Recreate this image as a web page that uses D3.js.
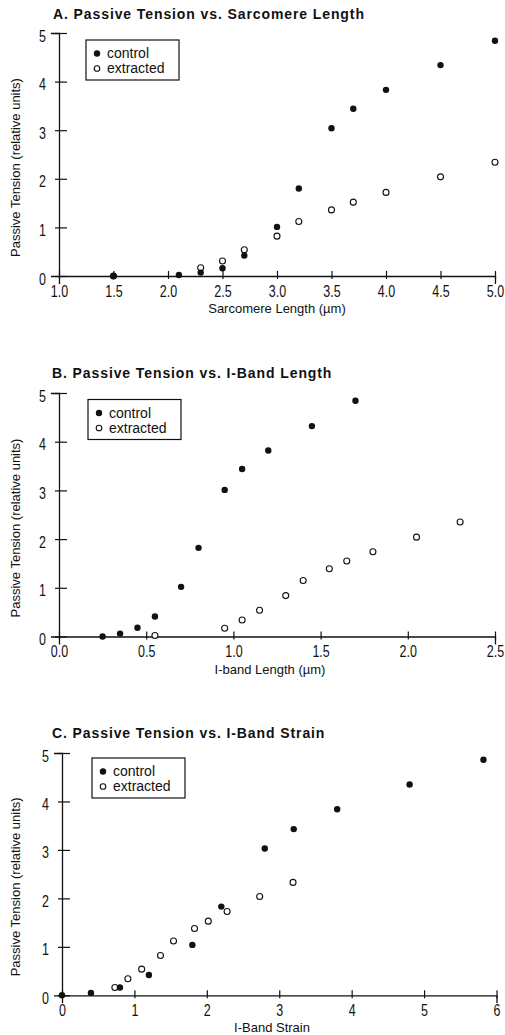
<!DOCTYPE html>
<html>
<head>
<meta charset="utf-8">
<script src="https://cdn.jsdelivr.net/npm/d3@7"></script>
<style>
  html, body { margin: 0; padding: 0; background: #fff; }
  svg { display: block; }
  text { font-family: "Liberation Sans", Arial, Helvetica, sans-serif; fill: #111; }
</style>
</head>
<body>
<svg id="chart" width="505" height="1035"></svg>
<script>
// ---------- DATA ----------
// Panel A: Passive Tension vs. Sarcomere Length
const sarcomereControlX = [1.5, 2.1, 2.3, 2.5, 2.7, 3.0, 3.2, 3.5, 3.7, 4.0, 4.5, 5.0];
const sarcomereControlY = [0.0, 0.02, 0.07, 0.16, 0.42, 1.01, 1.80, 3.04, 3.44, 3.83, 4.34, 4.84];
const sarcomereExtractedX = [1.5, 2.3, 2.5, 2.7, 3.0, 3.2, 3.5, 3.7, 4.0, 4.5, 5.0];
const sarcomereExtractedY = [0.0, 0.17, 0.31, 0.54, 0.82, 1.12, 1.36, 1.52, 1.72, 2.04, 2.34];
const sarcomereTicks = [1.0, 1.5, 2.0, 2.5, 3.0, 3.5, 4.0, 4.5, 5.0];

// Panel B: Passive Tension vs. I-Band Length
const ibandControlX = [0.25, 0.35, 0.45, 0.55, 0.70, 0.80, 0.95, 1.05, 1.20, 1.45, 1.70];
const ibandControlY = [0.0, 0.06, 0.18, 0.41, 1.02, 1.82, 3.01, 3.44, 3.82, 4.32, 4.84];
const ibandExtractedX = [0.55, 0.95, 1.05, 1.15, 1.30, 1.40, 1.55, 1.65, 1.80, 2.05, 2.30];
const ibandExtractedY = [0.02, 0.17, 0.34, 0.54, 0.84, 1.15, 1.39, 1.55, 1.74, 2.04, 2.35];
const ibandTicks = [0.0, 0.5, 1.0, 1.5, 2.0, 2.5];

// Panel C: Passive Tension vs. I-Band Strain
const strainControlX = [0.0, 0.4, 0.8, 1.2, 1.8, 2.2, 2.8, 3.2, 3.8, 4.8, 5.82];
const strainControlY = [0.0, 0.05, 0.16, 0.42, 1.04, 1.83, 3.03, 3.43, 3.84, 4.35, 4.86];
const strainExtractedX = [0.73, 0.91, 1.10, 1.36, 1.54, 1.83, 2.02, 2.28, 2.73, 3.19];
const strainExtractedY = [0.16, 0.34, 0.54, 0.82, 1.12, 1.38, 1.53, 1.73, 2.04, 2.33];
const strainTicks = [0, 1, 2, 3, 4, 5, 6];

const tensionTicks = [0, 1, 2, 3, 4, 5];
const legendLabels = ["control", "extracted"];
const yAxisTitle = "Passive Tension (relative units)";

// ---------- LAYOUT ----------
const panels = [
  { title: "A. Passive Tension vs. Sarcomere Length", xTitle: "Sarcomere Length (\u00b5m)",
    cx: sarcomereControlX, cy: sarcomereControlY, ex: sarcomereExtractedX, ey: sarcomereExtractedY,
    xDomain: [1, 5], xTicks: sarcomereTicks, fmt: d3.format(".1f"),
    left: 59, right: 495, bottom: 276, top: 33, titleX: 53, titleY: 19,
    xTitleX: 277, legend: { x: 86, y: 40 } },
  { title: "B. Passive Tension vs. I-Band Length", xTitle: "I-band Length (\u00b5m)",
    cx: ibandControlX, cy: ibandControlY, ex: ibandExtractedX, ey: ibandExtractedY,
    xDomain: [0, 2.5], xTicks: ibandTicks, fmt: d3.format(".1f"),
    left: 59, right: 495, bottom: 636.5, top: 393, titleX: 52, titleY: 378,
    xTitleX: 270, legend: { x: 88, y: 399.5 } },
  { title: "C. Passive Tension vs. I-Band Strain", xTitle: "I-Band Strain",
    cx: strainControlX, cy: strainControlY, ex: strainExtractedX, ey: strainExtractedY,
    xDomain: [0, 6], xTicks: strainTicks, fmt: d3.format("d"),
    left: 62, right: 496.5, bottom: 995.3, top: 753, titleX: 52, titleY: 738,
    xTitleX: 272, legend: { x: 92, y: 758 } }
];

const svg = d3.select("#chart");
const STRETCH = 1.3;

panels.forEach(p => {
  const x = d3.scaleLinear().domain(p.xDomain).range([p.left, p.right]);
  const y = d3.scaleLinear().domain([0, 5]).range([p.bottom, p.top]);
  const g = svg.append("g");

  // title
  g.append("text")
    .attr("x", p.titleX).attr("y", p.titleY)
    .attr("font-size", 14).attr("font-weight", "bold")
    .attr("letter-spacing", 0.9)
    .text(p.title);

  // x axis
  const xa = g.append("g")
    .attr("transform", `translate(0,${p.bottom})`)
    .call(d3.axisBottom(x).tickValues(p.xTicks).tickFormat(p.fmt).tickSizeOuter(0).tickSize(8));
  xa.select(".domain").attr("stroke", "#111").attr("stroke-width", 1.3);
  xa.selectAll(".tick line").attr("y1", -5).attr("y2", 3).attr("stroke", "#111").attr("stroke-width", 1.2);
  xa.selectAll(".tick text")
    .attr("font-family", "Liberation Sans, Arial, sans-serif")
    .attr("font-size", 12.5).attr("fill", "#111")
    .attr("dy", 0).attr("y", 21 / STRETCH)
    .attr("transform", `scale(1,${STRETCH})`);

  // y axis
  const ya = g.append("g")
    .attr("transform", `translate(${p.left},0)`)
    .call(d3.axisLeft(y).tickValues(tensionTicks).tickFormat(d3.format("d")).tickSizeOuter(0).tickSize(8));
  ya.select(".domain").attr("stroke", "#111").attr("stroke-width", 1.3);
  ya.selectAll(".tick line").attr("x1", -4).attr("x2", 8).attr("stroke", "#111").attr("stroke-width", 1.2);
  ya.selectAll(".tick text")
    .attr("font-family", "Liberation Sans, Arial, sans-serif")
    .attr("font-size", 12.5).attr("fill", "#111")
    .attr("x", -13).attr("dy", 0).attr("y", 8 / STRETCH)
    .attr("transform", `scale(1,${STRETCH})`);

  // axis titles
  g.append("text")
    .attr("x", p.xTitleX).attr("y", p.bottom + 37)
    .attr("text-anchor", "middle").attr("font-size", 13)
    .text(p.xTitle);
  g.append("text")
    .attr("transform", `translate(20,${p.bottom - 19}) rotate(-90)`)
    .attr("text-anchor", "start").attr("font-size", 13)
    .text(yAxisTitle);

  // points
  const ctrl = p.cx.map((v, i) => [v, p.cy[i]]);
  const extr = p.ex.map((v, i) => [v, p.ey[i]]);
  g.append("g").selectAll("circle").data(extr).join("circle")
    .attr("cx", d => x(d[0])).attr("cy", d => y(d[1])).attr("r", 3)
    .attr("fill", "#fff").attr("stroke", "#111").attr("stroke-width", 1.1);
  g.append("g").selectAll("circle").data(ctrl).join("circle")
    .attr("cx", d => x(d[0])).attr("cy", d => y(d[1])).attr("r", 3.2)
    .attr("fill", "#111");

  // legend
  const lg = g.append("g").attr("transform", `translate(${p.legend.x},${p.legend.y})`);
  lg.append("rect").attr("width", 93).attr("height", 40)
    .attr("fill", "#fff").attr("stroke", "#111").attr("stroke-width", 1.2);
  legendLabels.forEach((lab, i) => {
    const yy = 13.5 + i * 15;
    lg.append("circle").attr("cx", 11).attr("cy", yy).attr("r", i === 0 ? 3.2 : 2.8)
      .attr("fill", i === 0 ? "#111" : "#fff").attr("stroke", "#111").attr("stroke-width", i === 0 ? 0 : 1.1);
    lg.append("text").attr("x", 21).attr("y", yy + 4.5).attr("font-size", 14).text(lab);
  });
});
</script>
</body>
</html>
